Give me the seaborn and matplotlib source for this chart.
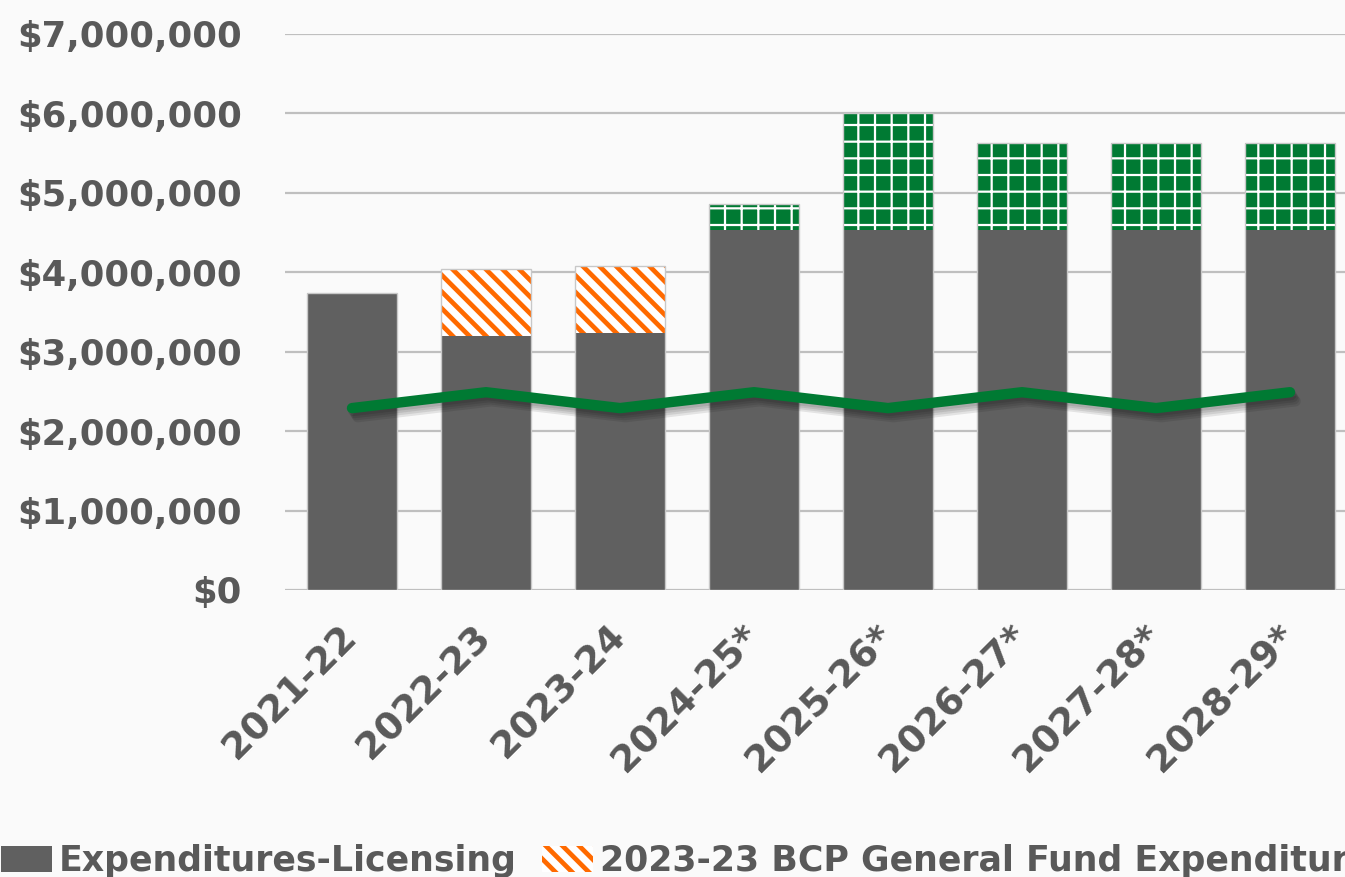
import numpy as np
import pandas as pd
import matplotlib
matplotlib.use("Agg")
import matplotlib.pyplot as plt
import matplotlib.patheffects as pe
import matplotlib.transforms as mtransforms
from matplotlib.patches import Patch
from matplotlib.ticker import FuncFormatter
import seaborn as sns

# ---- data ----
years = ["2021-22", "2022-23", "2023-24", "2024-25*", "2025-26*", "2026-27*", "2027-28*", "2028-29*"]
licensing = [3740000, 3200000, 3240000, 4530000, 4530000, 4530000, 4530000, 4530000]
bcp_2023 = [0, 840000, 840000, 0, 0, 0, 0, 0]
bcp_2024 = [0, 0, 0, 330000, 1470000, 1100000, 1100000, 1100000]
line_vals = [2290000, 2490000, 2290000, 2490000, 2290000, 2490000, 2290000, 2490000]
legend_labels = ["Expenditures-Licensing", "2023-23 BCP General Fund Expenditures"]

# ---- style ----
BG = "#FAFAFA"
GREY = "#606060"
ORANGE = "#FF6A00"
GREEN = "#007A33"
TXT = "#595959"

sns.set_style("white")
plt.rcParams["font.family"] = ["DejaVu Sans"]


def set_hlw(p, lw):
    if hasattr(p, "set_hatch_linewidth"):
        p.set_hatch_linewidth(lw)


fig = plt.figure(figsize=(13.45, 8.77), dpi=100, facecolor=BG)
ax = fig.add_axes([285 / 1345, 1 - 590 / 877, 1072 / 1345, (590 - 34) / 877])
ax.set_facecolor(BG)

lic = np.array(licensing)
tot_orange = lic + np.array(bcp_2023)
tot_green = tot_orange + np.array(bcp_2024)

W = 0.67
plt.rcParams["hatch.linewidth"] = 1.6
n0 = len(ax.patches)
sns.barplot(x=years, y=tot_green, color=GREEN, width=W, saturation=1, ax=ax)
for p in ax.patches[n0:]:
    p.set_facecolor(GREEN)
    p.set_edgecolor("white")
    p.set_hatch("+")
    p.set_linewidth(0)
    set_hlw(p, 1.6)

plt.rcParams["hatch.linewidth"] = 3.4
n1 = len(ax.patches)
sns.barplot(x=years, y=tot_orange, color="white", width=W, saturation=1, ax=ax)
for p in ax.patches[n1:]:
    p.set_facecolor("white")
    p.set_edgecolor(ORANGE)
    p.set_hatch("\\\\")
    p.set_linewidth(0)
    set_hlw(p, 3.4)

n2 = len(ax.patches)
sns.barplot(x=years, y=lic, color=GREY, width=W, saturation=1, ax=ax)
for p in ax.patches[n2:]:
    p.set_facecolor(GREY)
    p.set_edgecolor("none")
    p.set_linewidth(0)

# outlines
n3 = len(ax.patches)
sns.barplot(x=years, y=tot_green, color="#CCCCCC", width=W, saturation=1, ax=ax)
for p in ax.patches[n3:]:
    p.set_facecolor("none")
    p.set_edgecolor("#C8C8C8")
    p.set_linewidth(1.0)

# line with soft shadow
shadow = [pe.SimpleLineShadow(offset=(1.0 + i, -2.0 - 1.5 * i), shadow_color="black", alpha=0.09)
          for i in range(4)]
sns.lineplot(x=np.arange(len(years)), y=line_vals, ax=ax, color=GREEN, linewidth=7.5,
             sort=False, solid_capstyle="round", solid_joinstyle="round",
             path_effects=shadow + [pe.Normal()])

ax.set_xlim(-0.5, len(years) - 0.5)
ax.set_ylim(0, 7000000)
ax.set_yticks(np.arange(0, 7000001, 1000000))
ax.yaxis.set_major_formatter(FuncFormatter(lambda v, _: f"${v:,.0f}"))
ax.grid(axis="y", color="#BFBFBF", linewidth=1.6)
ax.grid(axis="x", visible=False)
ax.set_axisbelow(True)
for s in ax.spines.values():
    s.set_visible(False)
ax.set_xlabel("")
ax.set_ylabel("")
ax.tick_params(axis="both", length=0, colors=TXT)
ax.tick_params(axis="y", pad=31, labelsize=25.5)
ax.tick_params(axis="x", pad=12, labelsize=27)
ax.set_xticks(range(len(years)))
ax.set_xticklabels(years)
for lab in ax.get_yticklabels():
    lab.set_fontweight("bold")
    lab.set_color(TXT)
offset = mtransforms.ScaledTranslation(-13 / 100, -12 / 100, fig.dpi_scale_trans)
for lab in ax.get_xticklabels():
    lab.set_fontweight("bold")
    lab.set_color(TXT)
    lab.set_rotation(45)
    lab.set_ha("right")
    lab.set_rotation_mode("anchor")
    lab.set_transform(lab.get_transform() + offset)

handles = [Patch(facecolor=GREY, edgecolor="none"),
           Patch(facecolor="white", edgecolor=ORANGE, hatch="\\\\", linewidth=0)]
leg = fig.legend(handles, legend_labels, loc="lower left", bbox_to_anchor=(-0.003, -0.007),
                 ncol=2, frameon=False, prop={"size": 25, "weight": "bold"},
                 handlelength=1.45, handleheight=0.75, handletextpad=0.2,
                 columnspacing=0.75, borderpad=0.15, borderaxespad=0)
for t in leg.get_texts():
    t.set_color(TXT)

fig.savefig("out.png", dpi=100, facecolor=BG)
